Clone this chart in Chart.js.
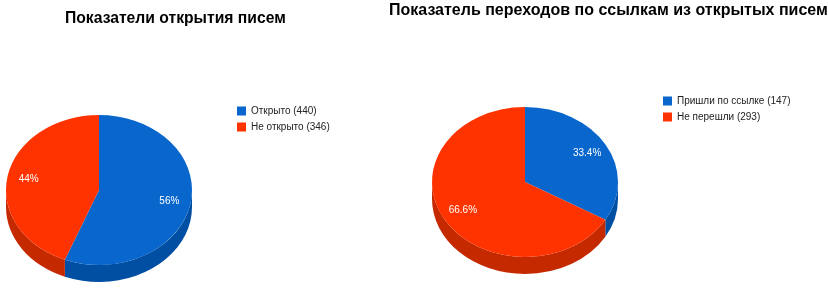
<!DOCTYPE html>
<html>
<head>
<meta charset="utf-8">
<script src="https://cdn.jsdelivr.net/npm/chart.js@4.4.1/dist/chart.umd.min.js"></script>
<style>
  html, body { margin: 0; padding: 0; background: #fff; overflow: hidden; }
  body { width: 828px; height: 294px; position: relative; }
  .box { position: absolute; top: 0; height: 294px; }
</style>
</head>
<body>
<div class="box" style="left:0;width:380px"><canvas id="open-chart"></canvas></div>
<div class="box" style="left:380px;width:448px"><canvas id="click-chart"></canvas></div>
<script>
const openLabels = ['Открыто', 'Не открыто'];
const openValues = [440, 346];

const clickLabels = ['Пришли по ссылке', 'Не перешли'];
const clickValues = [147, 293];

const topColors = ['#0866cc', '#ff3300'];
const sideColors = ['#004fa3', '#c42900'];

// flat pie squashed into an ellipse, with a side wall for depth
const pie3d = {
  id: 'pie3d',
  beforeDatasetsDraw(chart, args, opts) {
    const ctx = chart.ctx;
    const meta = chart.getDatasetMeta(0);
    const { x, y } = meta.data[0];
    ctx.save();
    ctx.translate(x, y);
    ctx.scale(1, opts.tilt);
    ctx.translate(-x, -y);
    const depth = opts.depth / opts.tilt;
    meta.data.forEach((arc, i) => {
      const a = Math.max(arc.startAngle, 0);
      const b = Math.min(arc.endAngle, Math.PI);
      if (b <= a) return;
      ctx.beginPath();
      ctx.arc(x, y, arc.outerRadius, a, b);
      ctx.arc(x, y + depth, arc.outerRadius, b, a, true);
      ctx.closePath();
      ctx.fillStyle = sideColors[i];
      ctx.fill();
    });
  },
  afterDatasetsDraw(chart, args, opts) {
    const ctx = chart.ctx;
    ctx.restore();
    const meta = chart.getDatasetMeta(0);
    const values = chart.data.datasets[0].data;
    const total = values.reduce((s, v) => s + v, 0);
    ctx.save();
    ctx.fillStyle = '#fff';
    ctx.font = '10px Arial, "Liberation Sans", sans-serif';
    ctx.textAlign = 'center';
    ctx.textBaseline = 'middle';
    meta.data.forEach((arc, i) => {
      const mid = (arc.startAngle + arc.endAngle) / 2;
      const r = arc.outerRadius * 0.77;
      const px = arc.x + Math.cos(mid) * r;
      const py = arc.y + Math.sin(mid) * r * opts.tilt;
      const pct = (values[i] / total * 100).toFixed(opts.decimals) + '%';
      ctx.fillText(pct, px, py);
    });
    ctx.restore();
  },
  afterDraw(chart, args, opts) {
    const ctx = chart.ctx;
    const values = chart.data.datasets[0].data;
    ctx.save();
    ctx.font = 'bold ' + opts.titleSize + 'px Arial, "Liberation Sans", sans-serif';
    ctx.fillStyle = '#000';
    ctx.textAlign = 'left';
    ctx.textBaseline = 'alphabetic';
    ctx.fillText(opts.title, opts.titleX, opts.titleY);

    ctx.font = '10px Arial, "Liberation Sans", sans-serif';
    ctx.textBaseline = 'middle';
    chart.data.labels.forEach((label, i) => {
      const ly = opts.legendY + i * 16;
      ctx.fillStyle = topColors[i];
      ctx.fillRect(opts.legendX, ly - 4.5, 9, 9);
      ctx.fillStyle = '#222';
      ctx.fillText(label + ' (' + values[i] + ')', opts.legendX + 14, ly);
    });
    ctx.restore();
  },
};

function makePie(id, labels, values, cfg) {
  return new Chart(document.getElementById(id), {
    type: 'pie',
    data: {
      labels: labels,
      datasets: [{
        data: values,
        backgroundColor: topColors,
        borderWidth: 0,
        hoverOffset: 0,
        clip: false,
      }],
    },
    options: {
      responsive: true,
      maintainAspectRatio: false,
      animation: false,
      radius: 93,
      layout: { padding: cfg.padding },
      events: [],
      plugins: {
        legend: { display: false },
        title: { display: false },
        tooltip: { enabled: false },
        pie3d: cfg.deco,
      },
    },
    plugins: [pie3d],
  });
}

// left: pie centre at (99,190)
makePie('open-chart', openLabels, openValues, {
  padding: { left: 6, right: 380 - 192, top: 115, bottom: 294 - 265 },
  deco: {
    tilt: 0.806, depth: 17, decimals: 0,
    title: 'Показатели открытия писем', titleSize: 15.7, titleX: 65, titleY: 23,
    legendX: 237, legendY: 111,
  },
});

// right: pie centre at (525,182) -> (145,182) in this canvas
makePie('click-chart', clickLabels, clickValues, {
  padding: { left: 52, right: 448 - 238, top: 107, bottom: 294 - 257 },
  deco: {
    tilt: 0.806, depth: 17, decimals: 1,
    title: 'Показатель переходов по ссылкам из открытых писем', titleSize: 16, titleX: 9, titleY: 15,
    legendX: 283, legendY: 101,
  },
});
</script>
</body>
</html>
